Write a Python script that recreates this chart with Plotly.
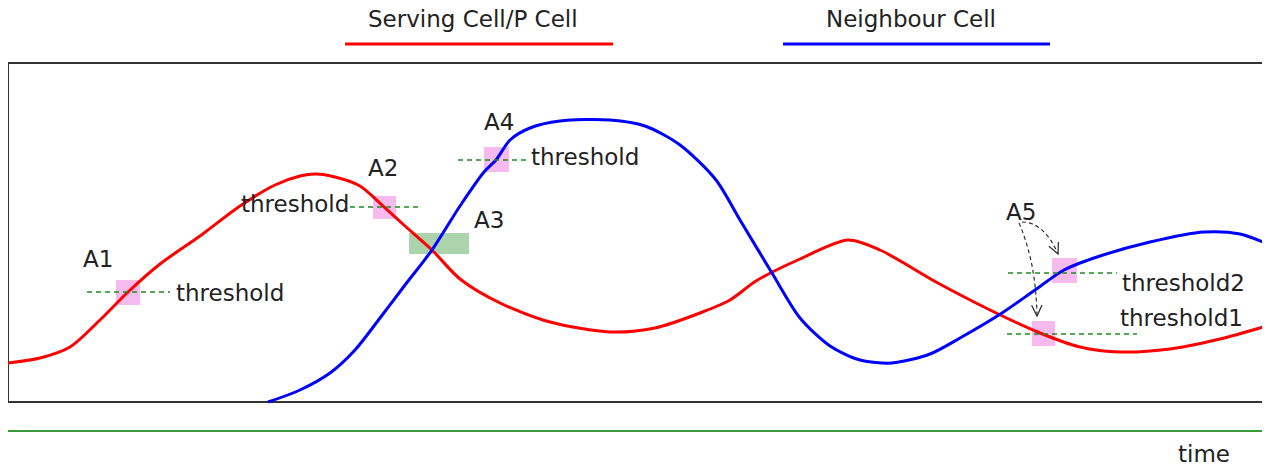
import math
import plotly.graph_objects as go

# señal de la celda servidora y de la vecina (eje x = tiempo, eje y = nivel, y invertido)
serving_x = [8, 40, 70, 100, 128, 160, 200, 240, 275, 300, 316, 335, 360, 384, 405, 432, 460,
             500, 550, 610, 655, 700, 730, 756, 800, 848, 880, 936, 990, 1040, 1080, 1120,
             1170, 1220, 1270]
serving_y = [363, 358, 347, 320, 292, 264, 236, 206, 185, 176, 174, 177, 186, 207, 226, 250, 279,
             303, 322, 332, 328, 313, 300, 281, 259, 240, 250, 282, 310, 333, 347, 352,
             349, 339, 325]

neigh_x = [268, 300, 330, 355, 380, 405, 432, 460, 484, 496, 510, 530, 560, 610, 645, 680, 716,
           740, 772, 800, 830, 860, 892, 930, 960, 1002, 1035, 1064, 1100, 1150, 1204, 1240, 1270]
neigh_y = [402, 390, 373, 350, 318, 285, 250, 206, 172, 160, 140, 128, 121, 120, 126, 145, 180,
           220, 273, 318, 346, 360, 363, 354, 338, 313, 290, 270, 256, 242, 232, 234, 245]

legend_names = ['Serving Cell/P Cell', 'Neighbour Cell']

# eventos: zonas de disparo (x0, y0, x1, y1)
event_boxes = [(116, 280, 140, 305), (373, 196, 396, 219), (484, 147, 509, 172),
               (1052, 258, 1077, 283), (1032, 321, 1055, 346)]
a3_box = (409, 233, 469, 254)

# umbrales: (x inicio, x fin, nivel)
thresholds = [(87, 170, 292), (350, 420, 207), (458, 528, 160),
              (1008, 1117, 273), (1007, 1137, 334)]

# etiquetas: (texto, x, y, anclaje)
labels = [('A1', 98, 259, 'center'), ('threshold', 174, 293, 'left'),
          ('A2', 383, 168, 'center'), ('threshold', 351, 204, 'right'),
          ('A3', 472, 220, 'left'), ('A4', 499, 122, 'center'),
          ('threshold', 529, 157, 'left'), ('A5', 1021, 212, 'center'),
          ('threshold2', 1120, 283, 'left'), ('threshold1', 1118, 318, 'left'),
          ('time', 1204, 454, 'center')]

# flechas de A5: (inicio, control, punta)
a5_arrows = [((1022, 222), (1044, 222), (1058, 254)),
             ((1019, 223), (1036, 262), (1037, 316))]

FONT = dict(family='DejaVu Sans', size=23, color='#222222')

fig = go.Figure()

fig.add_trace(go.Scatter(x=serving_x, y=serving_y, mode='lines',
                         line=dict(color='#ff0000', width=3, shape='spline', smoothing=0.8),
                         showlegend=False))
fig.add_trace(go.Scatter(x=neigh_x, y=neigh_y, mode='lines',
                         line=dict(color='#0000ff', width=3, shape='spline', smoothing=0.8),
                         showlegend=False))

shapes = []
# marco del gráfico
shapes.append(dict(type='rect', xref='x', yref='y', x0=8, x1=1273, y0=63, y1=402,
                   line=dict(color='#333333', width=2), layer='below'))

for x0, y0, x1, y1 in event_boxes:
    shapes.append(dict(type='rect', x0=x0, x1=x1, y0=y0, y1=y1,
                       fillcolor='rgba(240,130,225,0.55)', line=dict(width=0), layer='below'))
shapes.append(dict(type='rect', x0=a3_box[0], x1=a3_box[2], y0=a3_box[1], y1=a3_box[3],
                   fillcolor='rgba(90,170,90,0.5)', line=dict(width=0), layer='below'))

for xs, xe, lvl in thresholds:
    shapes.append(dict(type='line', x0=xs, x1=xe, y0=lvl, y1=lvl,
                       line=dict(color='#1f8a1f', width=1.5, dash='5px,4px')))

# eje de tiempo
shapes.append(dict(type='line', x0=8, x1=1268, y0=431, y1=431,
                   line=dict(color='#3a9a3a', width=2)))
shapes.append(dict(type='line', x0=1268, x1=1268, y0=425, y1=437,
                   line=dict(color='#3a9a3a', width=1.5)))

# leyenda dibujada arriba
shapes.append(dict(type='line', x0=345, x1=613, y0=44, y1=44, line=dict(color='#ff0000', width=3)))
shapes.append(dict(type='line', x0=783, x1=1050, y0=44, y1=44, line=dict(color='#0000ff', width=3)))

for (sx, sy), (cx, cy), (tx, ty) in a5_arrows:
    shapes.append(dict(type='path', path=f'M {sx},{sy} Q {cx},{cy} {tx},{ty}',
                       line=dict(color='#333333', width=1.2, dash='4px,3px')))
    ang = math.atan2(ty - cy, tx - cx)
    pts = []
    for d in (0.45, -0.45):
        pts.append((tx - 12 * math.cos(ang + d), ty - 12 * math.sin(ang + d)))
    shapes.append(dict(type='path',
                       path=f'M {pts[0][0]},{pts[0][1]} L {tx},{ty} L {pts[1][0]},{pts[1][1]}',
                       line=dict(color='#333333', width=1.3)))

annotations = []
for text, x, y, anchor in labels:
    annotations.append(dict(text=text, x=x, y=y, xanchor=anchor, yanchor='middle',
                            showarrow=False, font=FONT))
annotations.append(dict(text=legend_names[0], x=473, y=19, showarrow=False, font=FONT))
annotations.append(dict(text=legend_names[1], x=911, y=19, showarrow=False, font=FONT))

# la página tiene 8px de margen: el lienzo empieza en (8, 8)
fig.update_layout(
    width=1262, height=457,
    margin=dict(l=0, r=0, t=0, b=0),
    plot_bgcolor='white', paper_bgcolor='white',
    xaxis=dict(range=[8, 1270], visible=False),
    yaxis=dict(range=[465, 8], visible=False),
    shapes=shapes,
    annotations=annotations,
    showlegend=False
)

fig.write_html("out.html")
